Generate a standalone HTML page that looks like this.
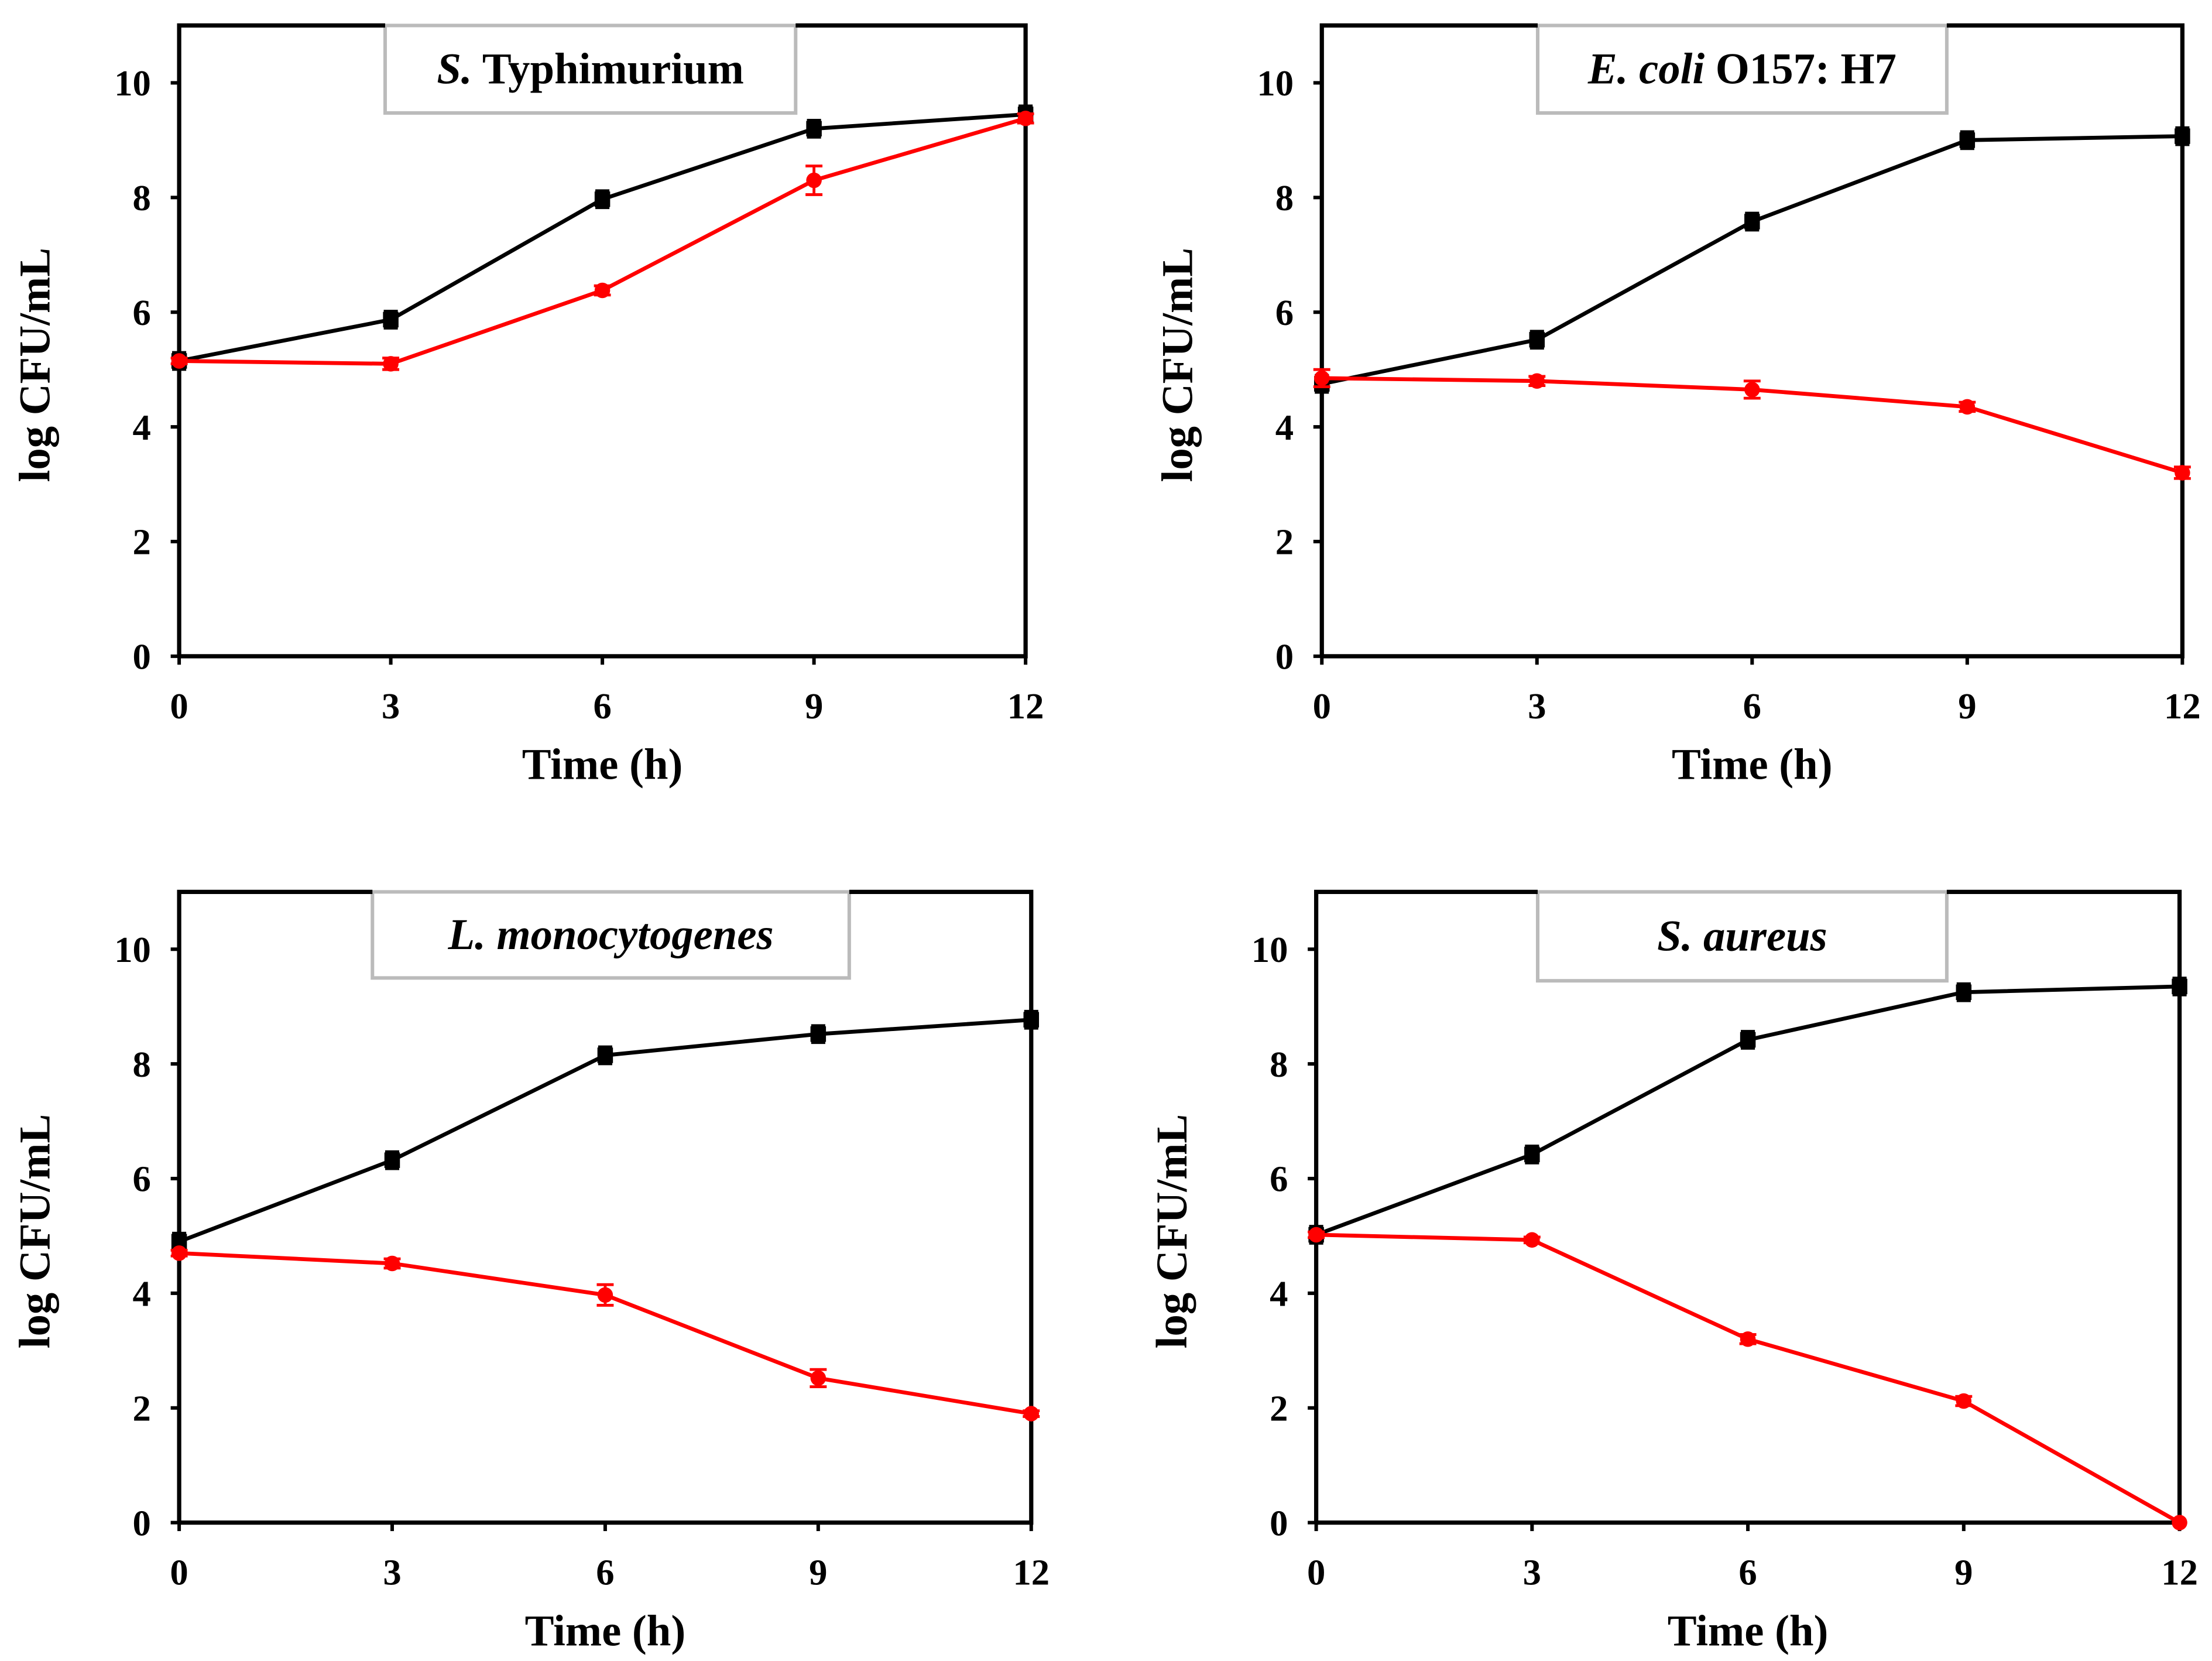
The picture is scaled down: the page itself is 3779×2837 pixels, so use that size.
<!DOCTYPE html>
<html><head><meta charset="utf-8"><style>
html,body{margin:0;padding:0;background:#fff;}
svg{display:block;}
text{font-family:"Liberation Serif",serif;font-weight:bold;fill:#000;}
</style></head><body>
<svg id="fig" width="3779" height="2837" viewBox="0 0 1568 1177" xmlns="http://www.w3.org/2000/svg"></svg>
<script>
const xCats = [0, 3, 6, 9, 12];
const yTicks = [0, 2, 4, 6, 8, 10];
const p1Black = [5.15, 5.87, 7.97, 9.2, 9.45];
const p1Red = [5.15, 5.1, 6.38, 8.3, 9.38];
const p1RedErr = [0.05, 0.1, 0.08, 0.25, 0.08];
const p2Black = [4.75, 5.52, 7.58, 9.0, 9.07];
const p2Red = [4.85, 4.8, 4.65, 4.35, 3.2];
const p2RedErr = [0.15, 0.08, 0.15, 0.08, 0.1];
const p3Black = [4.9, 6.32, 8.15, 8.52, 8.77];
const p3Red = [4.7, 4.52, 3.97, 2.52, 1.9];
const p3RedErr = [0.05, 0.08, 0.18, 0.15, 0.05];
const p4Black = [5.02, 6.42, 8.42, 9.25, 9.35];
const p4Red = [5.02, 4.93, 3.2, 2.12, 0];
const p4RedErr = [0.05, 0.05, 0.08, 0.08, 0];

const NS = "http://www.w3.org/2000/svg";
const svg = document.getElementById('fig');
function mk(tag, attrs, parent){const e=document.createElementNS(NS,tag);for(const k in attrs)e.setAttribute(k,attrs[k]);(parent||svg).appendChild(e);return e;}

const panels = [
 {id:'s-typhimurium', x0:127,x1:727,y0:18,y1:465, title:[['S.',true],[' Typhimurium',false]], box:[273,18,291,62], b:p1Black, r:p1Red, re:p1RedErr},
 {id:'e-coli', x0:937,x1:1547,y0:18,y1:465, title:[['E. coli',true],[' O157: H7',false]], box:[1090,18,290,62], b:p2Black, r:p2Red, re:p2RedErr},
 {id:'l-monocytogenes', x0:127,x1:731,y0:632,y1:1079, title:[['L. monocytogenes',true]], box:[264,632,338,61], b:p3Black, r:p3Red, re:p3RedErr},
 {id:'s-aureus', x0:933,x1:1545,y0:632,y1:1079, title:[['S. aureus',true]], box:[1090,632,290,63], b:p4Black, r:p4Red, re:p4RedErr}
];

panels.forEach(p=>{
  const g = mk('g',{});
  
  
  const xs = v => p.x0 + (v/12)*(p.x1-p.x0);
  const ys = v => p.y1 - (v/11)*(p.y1-p.y0);
  const tb = mk('rect',{x:p.box[0],y:p.box[1],width:p.box[2],height:p.box[3],fill:'#fff',stroke:'#bbb','stroke-width':2.5},g);
  
  
  const tt = mk('text',{x:p.box[0]+p.box[2]/2,y:p.box[1]+p.box[3]/2+10,'text-anchor':'middle','font-size':31},g);
  
  
  p.title.forEach(([s,it])=>{const ts=mk('tspan',{},tt);if(it)ts.setAttribute('font-style','italic');ts.textContent=s;});
  const ax = mk('path',{d:`M${p.x0},${p.y1} L${p.x0},${p.y0} L${p.box[0]},${p.y0} M${p.box[0]+p.box[2]},${p.y0} L${p.x1},${p.y0} L${p.x1},${p.y1} L${p.x0},${p.y1}`,fill:'none',stroke:'#000','stroke-width':3},g);
  
  
  yTicks.forEach(t=>{
    mk('line',{x1:p.x0-6,x2:p.x0,y1:ys(t),y2:ys(t),stroke:'#000','stroke-width':2.5},g);
    const l = mk('text',{x:p.x0-20,y:ys(t)+9,'text-anchor':'end','font-size':26},g);
    
    
    l.textContent = t;
  });
  xCats.forEach(t=>{
    mk('line',{x1:xs(t),x2:xs(t),y1:p.y1,y2:p.y1+6,stroke:'#000','stroke-width':2.5},g);
    const l = mk('text',{x:xs(t),y:p.y1+44,'text-anchor':'middle','font-size':26},g);
    
    
    l.textContent = t;
  });
  const xt = mk('text',{x:(p.x0+p.x1)/2,y:p.y1+87,'text-anchor':'middle','font-size':31},g);
  
  
  xt.textContent = 'Time (h)';
  const yx = p.x0-92, yy=(p.y0+p.y1)/2+17;
  const yt = mk('text',{x:yx,y:yy,'text-anchor':'middle','font-size':31,transform:`rotate(-90 ${yx} ${yy})`},g);
  
  
  yt.textContent = 'log CFU/mL';
  const bl = mk('polyline',{points:xCats.map((c,i)=>xs(c)+','+ys(p.b[i])).join(' '),fill:'none',stroke:'#000','stroke-width':2.8},g);
  
  
  xCats.forEach((c,i)=>{
    mk('line',{x1:xs(c)-5,x2:xs(c)+5,y1:ys(p.b[i])-6,y2:ys(p.b[i])-6,stroke:'#000','stroke-width':2},g);
    mk('line',{x1:xs(c)-5,x2:xs(c)+5,y1:ys(p.b[i])+6,y2:ys(p.b[i])+6,stroke:'#000','stroke-width':2},g);
    const m = mk('rect',{x:xs(c)-5.5,y:ys(p.b[i])-5.5,width:11,height:11,fill:'#000'},g);
    
    
  });
  const rl = mk('polyline',{points:xCats.map((c,i)=>xs(c)+','+ys(p.r[i])).join(' '),fill:'none',stroke:'#f00','stroke-width':2.8},g);
  
  
  xCats.forEach((c,i)=>{
    const e = p.re[i];
    if(e>0){
      const y1=ys(p.r[i]+e), y2=ys(p.r[i]-e);
      mk('line',{x1:xs(c),x2:xs(c),y1:y1,y2:y2,stroke:'#f00','stroke-width':2},g);
      mk('line',{x1:xs(c)-6,x2:xs(c)+6,y1:y1,y2:y1,stroke:'#f00','stroke-width':2},g);
      mk('line',{x1:xs(c)-6,x2:xs(c)+6,y1:y2,y2:y2,stroke:'#f00','stroke-width':2},g);
    }
    const m = mk('circle',{cx:xs(c),cy:ys(p.r[i]),r:5.5,fill:'#f00'},g);
    
    
  });
});
</script>
</body></html>
